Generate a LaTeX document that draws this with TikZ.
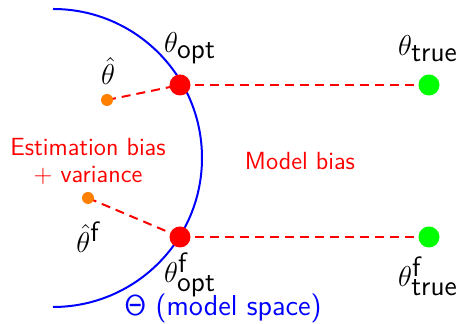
\documentclass[tikz,border=0pt]{standalone}
\renewcommand{\familydefault}{\sfdefault}
\begin{document}
\begin{tikzpicture}[x=0.5pt,y=-0.5pt,
  txt/.style={font=\fontsize{12.4}{14.5}\selectfont\sffamily},
  mlab/.style={font=\fontsize{14}{16}\selectfont, inner sep=0pt},
  redline/.style={draw=red, line width=1pt, dash pattern=on 4.5pt off 3pt},
  bigdot/.style={circle, inner sep=0pt, minimum size=10.5pt},
  smalldot/.style={circle, inner sep=0pt, minimum size=6pt, fill=orange}]
\useasboundingbox (0,0) rectangle (456,324);
\draw[blue, line width=1pt] (53,9) arc[start angle=90, end angle=-90, radius=74.5pt];
% dots (coordinates)
\coordinate (eh) at (107,100);
\coordinate (ef) at (88,198);
\coordinate (ot) at (180,85);
\coordinate (of) at (180,237);
\coordinate (tt) at (429,85);
\coordinate (tf) at (429,237);
\draw[redline] (eh) -- (ot);
\draw[redline] (ef) -- (of);
\draw[redline] (ot) -- (tt);
\draw[redline] (of) -- (tf);
\node[smalldot] (dh) at (eh) {};
\node[smalldot] (df) at (ef) {};
\node[bigdot, fill=red] (dot) at (ot) {};
\node[bigdot, fill=red] (dof) at (of) {};
\node[bigdot, fill=green] (dtt) at (tt) {};
\node[bigdot, fill=green] (dtf) at (tf) {};
% labels
\node[mlab] (lopt) at (190,48) {$\theta_{\textsf{opt}}$};
\node[mlab] (lhat) at (108,71) {$\hat\theta$};
\node[mlab] (ltrue) at (428,49) {$\theta_{\textsf{true}}$};
\node[mlab] (lhatf) at (88,237) {$\hat\theta^{\textsf{f}}$};
\node[mlab] (loptf) at (190,275) {$\theta^{\textsf{f}}_{\textsf{opt}}$};
\node[mlab] (ltruef) at (428,276) {$\theta^{\textsf{f}}_{\textsf{true}}$};
\node[txt, red, align=center, inner sep=0pt] (est) at (88,161) {Estimation bias\\[-1pt]+ variance};
\node[txt, red, inner sep=0pt] (mb) at (300,161) {Model bias};
\node[font=\fontsize{14.4}{16}\selectfont\sffamily, blue, inner sep=0pt] (space) at (223,308) {$\mathsf{\Theta}$ (model space)};
\end{tikzpicture}
\end{document}
